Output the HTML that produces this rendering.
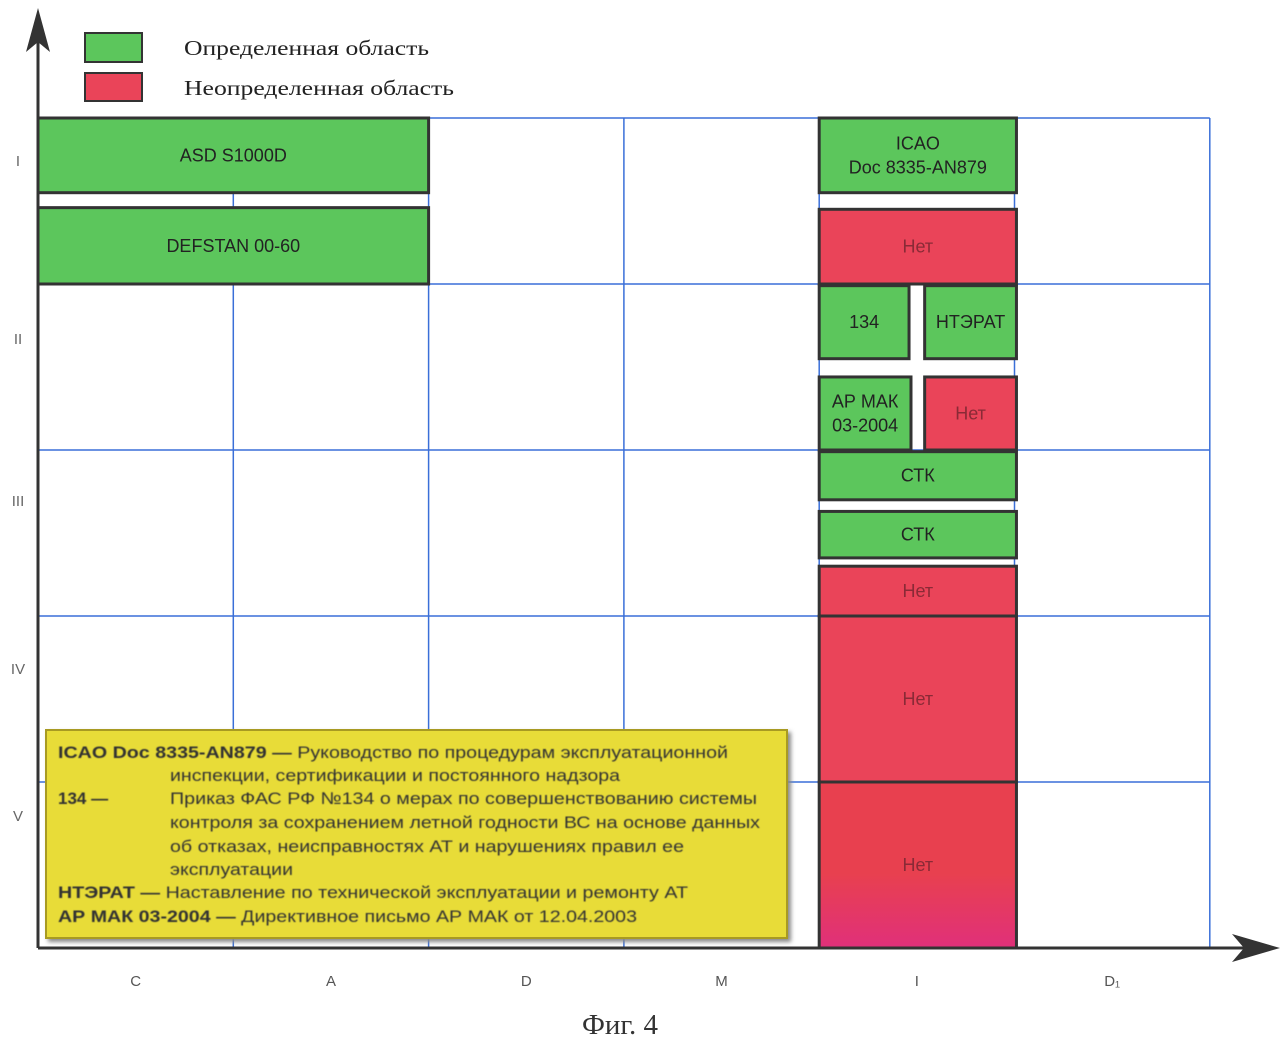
<!DOCTYPE html>
<html><head><meta charset="utf-8"><style>
body{margin:0;background:#fff;}
svg{display:block;}
.t{font-family:"Liberation Sans",sans-serif;}
</style></head><body>
<svg id="c" width="1286" height="1042" xmlns="http://www.w3.org/2000/svg">
<defs>
<linearGradient id="mag" x1="0" y1="0" x2="0" y2="1"><stop offset="0.55" stop-color="#e8404f"/><stop offset="1" stop-color="#e0307a"/></linearGradient>
<filter id="sh"><feDropShadow dx="3" dy="3" stdDeviation="2" flood-color="#888"/></filter>
<filter id="bl"><feGaussianBlur stdDeviation="0.5"/></filter>
</defs>
<g id="grid"></g>
<g id="blocks"></g>
<g id="axes"></g>
<g>
<rect x="85" y="33" width="57" height="29" fill="#5cc65c" stroke="#333" stroke-width="2"/>
<text x="184" y="55" textLength="245" lengthAdjust="spacingAndGlyphs" font-family="Liberation Serif,serif" font-size="21" fill="#222">Определенная область</text>
<rect x="85" y="73" width="57" height="28" fill="#ea4459" stroke="#333" stroke-width="2"/>
<text x="184" y="95" textLength="270" lengthAdjust="spacingAndGlyphs" font-family="Liberation Serif,serif" font-size="21" fill="#222">Неопределенная область</text>
</g>
<g class="t" font-size="17" fill="#333">
<rect x="46" y="730" width="741" height="208" fill="#e8dc38" stroke="#a89a20" stroke-width="2" filter="url(#sh)"/>
<g filter="url(#bl)" lengthAdjust="spacingAndGlyphs">
<text x="58" y="758" textLength="670" lengthAdjust="spacingAndGlyphs"><tspan font-weight="bold">ICAO Doc 8335-AN879 — </tspan>Руководство по процедурам эксплуатационной</text>
<text x="170" y="781" textLength="450" lengthAdjust="spacingAndGlyphs">инспекции, сертификации и постоянного надзора</text>
<text x="58" y="804" font-weight="bold">134 —</text>
<text x="170" y="804" textLength="587" lengthAdjust="spacingAndGlyphs">Приказ ФАС РФ №134 о мерах по совершенствованию системы</text>
<text x="170" y="828" textLength="590" lengthAdjust="spacingAndGlyphs">контроля за сохранением летной годности ВС на основе данных</text>
<text x="170" y="852" textLength="514" lengthAdjust="spacingAndGlyphs">об отказах, неисправностях АТ и нарушениях правил ее</text>
<text x="170" y="875" textLength="123" lengthAdjust="spacingAndGlyphs">эксплуатации</text>
<text x="58" y="898" textLength="630" lengthAdjust="spacingAndGlyphs"><tspan font-weight="bold">НТЭРАТ — </tspan>Наставление по технической эксплуатации и ремонту АТ</text>
<text x="58" y="922" textLength="579" lengthAdjust="spacingAndGlyphs"><tspan font-weight="bold">АР МАК 03-2004 — </tspan>Директивное письмо АР МАК от 12.04.2003</text>
</g>
</g>
<text x="620" y="1034" text-anchor="middle" font-family="Liberation Serif,serif" font-size="29" fill="#333">Фиг. 4</text>
</svg>
<script>
const colLabels=["C","A","D","M","I","D\u2081"];
const rowLabels=["I","II","III","IV","V"];
// blocks: column start/end (units), row start/end (units), type, label
const bx0=[0,0,4,4,4,4.54,4,4.54,4,4,4,4,4];
const bx1=[2,2,5.01,5.01,4.46,5.01,4.47,5.01,5.01,5.01,5.01,5.01,5.01];
const by0=[0,0.54,0,0.55,1.01,1.01,1.56,1.56,2.01,2.37,2.7,3.0,4.0];
const by1=[0.45,1.0,0.45,1.0,1.45,1.45,2.0,2.0,2.3,2.65,3.0,4.0,5.0];
const btype=["g","g","g","r","g","g","g","r","g","g","r","r","m"];
const blabel=["ASD S1000D","DEFSTAN 00-60","ICAO|Doc 8335-AN879","Нет","134","НТЭРАТ","АР МАК|03-2004","Нет","СТК","СТК","Нет","Нет","Нет"];
const X=c=>38+c*195.3, Y=r=>118+r*166;
const NS="http://www.w3.org/2000/svg";
function mk(t,a,p){const e=document.createElementNS(NS,t);for(const k in a)e.setAttribute(k,a[k]);p.appendChild(e);return e;}
const grid=document.getElementById('grid');
for(let i=1;i<=6;i++){const l=mk('line',{x1:X(i),x2:X(i),y1:118,y2:948,stroke:'#3a6fd8','stroke-width':1.5},grid);

}
for(let j=0;j<5;j++){const l=mk('line',{x1:38,x2:X(6),y1:Y(j),y2:Y(j),stroke:'#3a6fd8','stroke-width':1.5},grid);

}
const bl=document.getElementById('blocks');
const fills={g:'#5cc65c',r:'#ea4459',m:'url(#mag)'};
for(let i=0;i<bx0.length;i++){
const x=X(bx0[i]),y=Y(by0[i]),w=X(bx1[i])-x,h=Y(by1[i])-y;
const r=mk('rect',{x:x,y:y,width:w,height:h,fill:fills[btype[i]],stroke:'#333','stroke-width':3},bl);


const lines=blabel[i].split('|');
const cy=y+h/2;
lines.forEach((s,k)=>{const t=mk('text',{x:x+w/2,y:cy+6+(k-(lines.length-1)/2)*24,'text-anchor':'middle','font-size':18,fill:btype[i]==='g'?'#222':'#8a2a36',class:'t'},bl);
t.textContent=s;

});
}
const ax=document.getElementById('axes');
mk('line',{x1:38,y1:948,x2:38,y2:30,stroke:'#333','stroke-width':3},ax);
mk('path',{d:'M38 8 L26 52 L38 42 L50 52 Z',fill:'#333'},ax);
mk('line',{x1:38,y1:948,x2:1255,y2:948,stroke:'#333','stroke-width':3},ax);
mk('path',{d:'M1280 948 L1232 934 L1244 948 L1232 962 Z',fill:'#333'},ax);
const ry=[160,338,500,668,815];
rowLabels.forEach((s,i)=>{const t=mk('text',{x:18,y:ry[i]+6,'text-anchor':'middle','font-size':15,fill:'#666',class:'t'},ax);
t.textContent=s;

});
colLabels.forEach((s,i)=>{const t=mk('text',{x:X(i+0.5),y:986,'text-anchor':'middle','font-size':15,fill:'#555',class:'t'},ax);
t.textContent=s;

});
</script>
</body></html>
